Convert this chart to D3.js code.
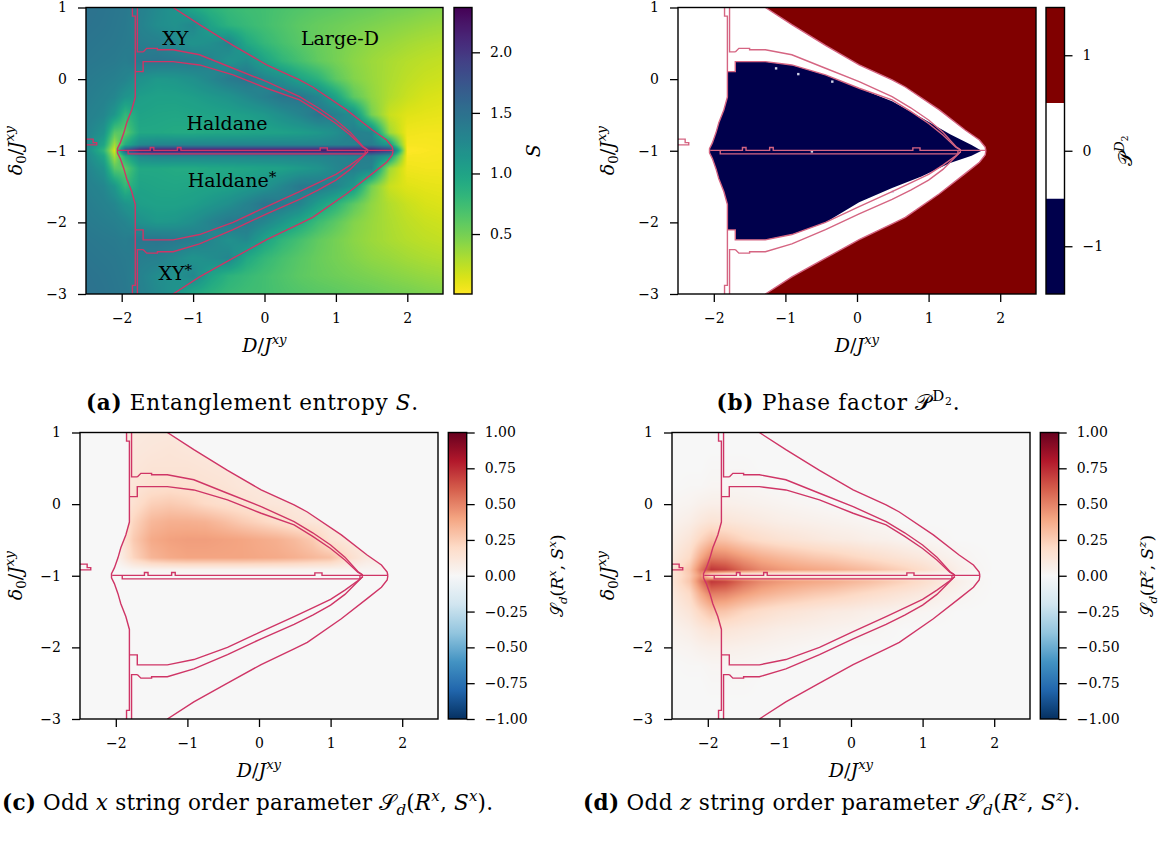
<!DOCTYPE html>
<html>
<head>
<meta charset="utf-8">
<script src="https://cdn.jsdelivr.net/npm/d3@7/dist/d3.min.js"></script>
<style>
  html, body { margin: 0; padding: 0; background: #fff; }
  svg { display: block; }
</style>
</head>
<body>
<svg id="fig" width="1163" height="848" xmlns="http://www.w3.org/2000/svg"></svg>
<script>
// ---------------------------------------------------------------------------
// Sample grid of the (D, delta0) phase diagram
// ---------------------------------------------------------------------------
const D_GRID = [-2.5, -2.25, -2.1, -1.95, -1.75, -1.5, -1.25, -1, -0.75, -0.5, -0.25,
                0, 0.25, 0.5, 0.75, 1, 1.25, 1.5, 1.75, 2, 2.25, 2.5];
const DELTA_GRID = [1, 0.75, 0.5, 0.25, 0, -0.25, -0.5, -0.75, -0.92, -1, -1.08,
                    -1.25, -1.5, -1.75, -2, -2.25, -2.5, -2.75, -3];

// Entanglement entropy S on the grid (rows follow DELTA_GRID, columns D_GRID)
const ENTROPY = [
  [1.48,1.46,1.44,1.42,1.35,1.25,1.15,0.95,0.85,0.78,0.74,0.72,0.68,0.65,0.62,0.60,0.57,0.55,0.52,0.50,0.47,0.45],
  [1.47,1.45,1.43,1.41,1.33,1.22,1.18,1.28,1.00,0.85,0.78,0.72,0.66,0.60,0.56,0.53,0.50,0.47,0.44,0.41,0.38,0.36],
  [1.45,1.43,1.42,1.40,1.37,1.35,1.25,1.15,1.20,1.30,0.95,0.80,0.70,0.62,0.55,0.50,0.45,0.40,0.37,0.33,0.30,0.28],
  [1.43,1.41,1.40,1.37,1.43,1.45,1.42,1.40,1.30,1.15,1.22,1.00,0.82,0.70,0.58,0.50,0.42,0.36,0.31,0.27,0.24,0.22],
  [1.40,1.37,1.35,1.30,1.18,1.10,1.12,1.18,1.28,1.40,1.45,1.30,1.20,1.00,0.85,0.60,0.45,0.37,0.30,0.24,0.20,0.18],
  [1.38,1.33,1.28,1.15,1.05,1.02,1.02,1.05,1.10,1.15,1.25,1.35,1.45,1.45,1.30,1.00,0.60,0.40,0.28,0.20,0.15,0.13],
  [1.35,1.28,1.12,0.80,1.00,0.98,0.97,0.98,1.00,1.02,1.05,1.10,1.20,1.30,1.45,1.35,1.20,0.50,0.20,0.12,0.10,0.09],
  [1.32,1.15,0.62,0.60,0.95,0.95,0.93,0.93,0.95,0.96,0.98,1.00,1.02,1.05,1.10,1.20,1.35,1.30,0.35,0.06,0.05,0.05],
  [1.28,0.98,0.32,0.90,1.25,1.30,1.30,1.30,1.30,1.30,1.30,1.30,1.30,1.30,1.30,1.32,1.35,1.38,1.10,0.03,0.03,0.04],
  [1.25,0.82,0.15,1.80,2.20,2.25,2.25,2.25,2.25,2.25,2.25,2.25,2.25,2.25,2.25,2.25,2.25,2.20,2.00,0.00,0.02,0.03],
  [1.28,0.98,0.32,0.90,1.25,1.30,1.30,1.30,1.30,1.30,1.30,1.30,1.30,1.30,1.30,1.32,1.35,1.38,1.10,0.03,0.03,0.04],
  [1.32,1.15,0.62,0.60,0.95,0.95,0.93,0.93,0.95,0.96,0.98,1.00,1.02,1.08,1.15,1.28,1.35,1.30,0.35,0.06,0.05,0.05],
  [1.35,1.28,1.12,0.80,1.00,0.98,0.97,0.98,1.00,1.02,1.08,1.15,1.28,1.42,1.40,1.30,1.10,0.50,0.20,0.12,0.10,0.09],
  [1.38,1.33,1.28,1.15,1.05,1.02,1.02,1.05,1.12,1.20,1.32,1.45,1.40,1.30,1.05,0.85,0.60,0.40,0.28,0.20,0.15,0.13],
  [1.40,1.37,1.35,1.30,1.18,1.10,1.12,1.20,1.32,1.42,1.40,1.28,1.12,0.95,0.75,0.60,0.45,0.37,0.30,0.24,0.20,0.18],
  [1.43,1.41,1.40,1.37,1.43,1.45,1.42,1.38,1.28,1.18,1.25,1.00,0.82,0.70,0.58,0.50,0.42,0.36,0.31,0.27,0.24,0.22],
  [1.45,1.43,1.42,1.40,1.37,1.35,1.25,1.15,1.22,1.28,0.95,0.80,0.70,0.62,0.55,0.50,0.45,0.40,0.37,0.33,0.30,0.28],
  [1.47,1.45,1.43,1.41,1.33,1.22,1.18,1.28,1.00,0.85,0.78,0.72,0.66,0.60,0.56,0.53,0.50,0.47,0.44,0.41,0.38,0.36],
  [1.48,1.46,1.44,1.42,1.35,1.25,1.15,0.95,0.85,0.78,0.74,0.72,0.68,0.65,0.62,0.60,0.57,0.55,0.52,0.50,0.47,0.45]
];

// Odd x string order parameter S_d(R^x, S^x)
const STRING_X = [
  [0,0,0,0.08,0.10,0.11,0.11,0.10,0.10,0,0,0,0,0,0,0,0,0,0,0,0,0],
  [0,0,0,0.08,0.11,0.12,0.13,0.12,0.11,0.10,0,0,0,0,0,0,0,0,0,0,0,0],
  [0,0,0,0.08,0.12,0.14,0.14,0.14,0.13,0.12,0.11,0.10,0,0,0,0,0,0,0,0,0,0],
  [0,0,0,0.08,0.13,0.16,0.17,0.16,0.15,0.14,0.12,0.11,0.10,0.10,0,0,0,0,0,0,0,0],
  [0,0,0,0.08,0.16,0.24,0.26,0.24,0.20,0.17,0.15,0.13,0.12,0.11,0.10,0.10,0,0,0,0,0,0],
  [0,0,0,0.08,0.22,0.33,0.36,0.36,0.35,0.31,0.26,0.22,0.18,0.14,0.12,0.11,0.10,0,0,0,0,0],
  [0,0,0,0.08,0.26,0.38,0.41,0.42,0.42,0.41,0.40,0.38,0.36,0.32,0.26,0.14,0.11,0.10,0,0,0,0],
  [0,0,0,0.06,0.22,0.34,0.38,0.40,0.40,0.40,0.40,0.39,0.38,0.36,0.33,0.30,0.18,0.10,0.08,0,0,0],
  [0,0,0,0,0.02,0.03,0.03,0.03,0.03,0.03,0.03,0.03,0.03,0.03,0.03,0.03,0.03,0.02,0.02,0,0,0],
  [0,0,0,0,0,0,0,0,0,0,0,0,0,0,0,0,0,0,0,0,0,0],
  [0,0,0,0,0,0,0,0,0,0,0,0,0,0,0,0,0,0,0,0,0,0],
  [0,0,0,0,0,0,0,0,0,0,0,0,0,0,0,0,0,0,0,0,0,0],
  [0,0,0,0,0,0,0,0,0,0,0,0,0,0,0,0,0,0,0,0,0,0],
  [0,0,0,0,0,0,0,0,0,0,0,0,0,0,0,0,0,0,0,0,0,0],
  [0,0,0,0,0,0,0,0,0,0,0,0,0,0,0,0,0,0,0,0,0,0],
  [0,0,0,0,0,0,0,0,0,0,0,0,0,0,0,0,0,0,0,0,0,0],
  [0,0,0,0,0,0,0,0,0,0,0,0,0,0,0,0,0,0,0,0,0,0],
  [0,0,0,0,0,0,0,0,0,0,0,0,0,0,0,0,0,0,0,0,0,0],
  [0,0,0,0,0,0,0,0,0,0,0,0,0,0,0,0,0,0,0,0,0,0]
];

// Odd z string order parameter S_d(R^z, S^z)
const STRING_Z = [
  [0,0,0,0,0,0,0,0,0,0,0,0,0,0,0,0,0,0,0,0,0,0],
  [0,0,0,0,0,0,0,0,0,0,0,0,0,0,0,0,0,0,0,0,0,0],
  [0,0,0,0.01,0.01,0.01,0,0,0,0,0,0,0,0,0,0,0,0,0,0,0,0],
  [0,0.01,0.01,0.02,0.02,0.02,0.01,0,0,0,0,0,0,0,0,0,0,0,0,0,0,0],
  [0.02,0.03,0.05,0.06,0.06,0.05,0.04,0.03,0.02,0.01,0,0,0,0,0,0,0,0,0,0,0,0],
  [0.04,0.07,0.11,0.14,0.13,0.11,0.09,0.07,0.06,0.05,0.04,0.03,0.02,0.01,0,0,0,0,0,0,0,0],
  [0.07,0.13,0.22,0.30,0.28,0.22,0.18,0.15,0.13,0.11,0.09,0.08,0.06,0.05,0.03,0.02,0.01,0,0,0,0,0],
  [0.10,0.20,0.38,0.52,0.50,0.43,0.37,0.33,0.30,0.27,0.25,0.22,0.19,0.16,0.13,0.10,0.06,0.03,0.01,0,0,0],
  [0.13,0.28,0.52,0.72,0.68,0.56,0.48,0.44,0.41,0.39,0.37,0.34,0.31,0.27,0.23,0.18,0.12,0.06,0.02,0,0,0],
  [0.12,0.26,0.45,0.08,0,0,0,0,0,0,0,0,0,0,0,0,0,0,0,0,0,0],
  [0.13,0.28,0.52,0.72,0.68,0.56,0.48,0.44,0.41,0.39,0.37,0.34,0.31,0.27,0.23,0.18,0.12,0.06,0.02,0,0,0],
  [0.10,0.20,0.38,0.52,0.50,0.43,0.37,0.33,0.30,0.27,0.25,0.22,0.19,0.16,0.13,0.10,0.06,0.03,0.01,0,0,0],
  [0.07,0.13,0.22,0.30,0.28,0.22,0.18,0.15,0.13,0.11,0.09,0.08,0.06,0.05,0.03,0.02,0.01,0,0,0,0,0],
  [0.04,0.07,0.11,0.14,0.13,0.11,0.09,0.07,0.06,0.05,0.04,0.03,0.02,0.01,0,0,0,0,0,0,0,0],
  [0.02,0.03,0.05,0.06,0.06,0.05,0.04,0.03,0.02,0.01,0,0,0,0,0,0,0,0,0,0,0,0],
  [0,0.01,0.01,0.02,0.02,0.02,0.01,0,0,0,0,0,0,0,0,0,0,0,0,0,0,0],
  [0,0,0,0.01,0.01,0.01,0,0,0,0,0,0,0,0,0,0,0,0,0,0,0,0],
  [0,0,0,0,0,0,0,0,0,0,0,0,0,0,0,0,0,0,0,0,0,0],
  [0,0,0,0,0,0,0,0,0,0,0,0,0,0,0,0,0,0,0,0,0,0]
];

// ---------------------------------------------------------------------------
// Phase boundaries, as [D, delta0] vertices
// ---------------------------------------------------------------------------
// left boundary of the gapped phases
const BOUNDARY_LEFT = [[-1.85,1],[-1.85,0.88],[-1.81,0.88],[-1.81,-0.25],[-1.86,-0.43],[-1.93,-0.61],
  [-1.97,-0.75],[-2.02,-0.89],[-2.06,-0.97],[-2.06,-1.03],[-2.02,-1.11],[-1.97,-1.25],[-1.93,-1.39],
  [-1.86,-1.57],[-1.81,-1.75],[-1.81,-2.88],[-1.85,-2.88],[-1.85,-3]];
const BOUNDARY_XY_LEFT = [[-1.78,1],[-1.78,0.38],[-1.7,0.38]];
const BOUNDARY_XYS_LEFT = [[-1.78,-3],[-1.78,-2.38],[-1.7,-2.38]];
// Large-D boundaries
const BOUNDARY_LARGE_D_TOP = [[-1.28,1],[-0.91,0.76],[-0.44,0.47],[0.03,0.2],[0.49,-0.01],[0.675,-0.11],
  [1.15,-0.43],[1.51,-0.71],[1.71,-0.85],[1.79,-0.95],[1.8,-1]];
const BOUNDARY_LARGE_D_BOTTOM = [[-1.28,-3],[-0.91,-2.76],[-0.44,-2.5],[0.03,-2.24],[0.49,-2.02],[0.675,-1.93],
  [1.15,-1.6],[1.51,-1.32],[1.71,-1.16],[1.79,-1.06],[1.8,-1]];
// XY / Haldane boundaries (upper pair) and XY* / Haldane* boundaries (lower pair)
const BOUNDARY_XY_OUTER = [[-1.7,0.38],[-1.65,0.43],[-1.5,0.43],[-1.5,0.41],[-1.28,0.41],[-0.91,0.34],
  [-0.44,0.152],[0.03,-0.035],[0.49,-0.244],[0.75,-0.40],[1.0,-0.57],[1.2,-0.74],[1.38,-0.94],[1.45,-0.99]];
const BOUNDARY_XY_INNER = [[-1.81,0.105],[-1.70,0.105],[-1.70,0.244],[-1.28,0.244],[-0.91,0.198],
  [-0.44,0.059],[0.03,-0.127],[0.49,-0.29],[0.75,-0.45],[1.0,-0.62],[1.2,-0.78],[1.38,-0.95],[1.45,-0.99]];
const BOUNDARY_XYS_OUTER = [[-1.7,-2.38],[-1.65,-2.43],[-1.5,-2.43],[-1.5,-2.41],[-1.28,-2.41],[-0.91,-2.3],
  [-0.44,-2.1],[0.03,-1.88],[0.49,-1.68],[0.75,-1.55],[1.0,-1.41],[1.2,-1.26],[1.38,-1.08],[1.45,-1.01]];
const BOUNDARY_XYS_INNER = [[-1.81,-2.105],[-1.70,-2.105],[-1.70,-2.244],[-1.28,-2.244],[-0.91,-2.17],
  [-0.44,-2.0],[0.03,-1.78],[0.49,-1.57],[0.75,-1.45],[1.0,-1.33],[1.2,-1.2],[1.38,-1.07],[1.45,-1.01]];
// Haldane / Haldane* line at delta0 = -1 and the thin strip below it
const BOUNDARY_CENTER = [[-2.05,-0.995],[-1.6,-0.995],[-1.6,-0.955],[-1.55,-0.955],[-1.55,-0.995],
  [-1.22,-0.995],[-1.22,-0.955],[-1.17,-0.955],[-1.17,-0.995],[0.78,-0.995],[0.78,-0.96],[0.88,-0.96],
  [0.88,-0.995],[1.8,-0.995]];
const BOUNDARY_STRIP = [[-1.91,-0.995],[-1.91,-1.043],[1.41,-1.043],[1.41,-0.995]];
const BOUNDARY_EDGE_SPOT = [[-2.5,-0.838],[-2.4,-0.838],[-2.4,-0.886],[-2.35,-0.886],[-2.35,-0.918],[-2.5,-0.918]];

// Region where the phase factor is -1
const NEGATIVE_REGION = [[-1.81,0.105],[-1.70,0.105],[-1.70,0.244],[-1.28,0.244],[-0.91,0.198],[-0.44,0.059],
  [0.03,-0.127],[0.49,-0.31],[0.9,-0.54],[1.3,-0.77],[1.6,-0.92],[1.74,-1.0],
  [1.6,-1.07],[1.3,-1.17],[0.9,-1.36],[0.49,-1.52],[0.03,-1.72],[-0.44,-2.0],[-0.91,-2.17],
  [-1.28,-2.244],[-1.70,-2.244],[-1.70,-2.105],[-1.81,-2.105],[-1.81,-1.75],[-1.86,-1.57],[-1.93,-1.39],
  [-1.97,-1.25],[-2.02,-1.11],[-2.06,-1.03],[-2.06,-0.97],[-2.02,-0.89],[-1.97,-0.75],[-1.93,-0.61],
  [-1.86,-0.43],[-1.81,-0.25]];
const NEGATIVE_SPECKLES = [[-1.13,0.15],[-0.82,0.07],[-0.345,-0.035],[0.5,-1.57],[-0.63,-1.01]];

// Phase names written into the entropy map (text baseline at [D, delta0])
const PHASE_NAMES = ['XY', 'Large-D', 'Haldane', 'Haldane', 'XY'];
const PHASE_NAME_STARRED = [false, false, false, true, true];
const PHASE_NAME_POS = [[-1.25, 0.476], [1.057, 0.476], [-0.525, -0.71], [-0.455, -1.506], [-1.25, -2.805]];

// Axis ticks
const D_TICKS = [-2, -1, 0, 1, 2];
const DELTA_TICKS = [-3, -2, -1, 0, 1];
const ENTROPY_TICKS = [0.5, 1.0, 1.5, 2.0];
const ENTROPY_RANGE = [0.005, 2.37];
const PHASE_TICKS = [-1, 0, 1];
const STRING_TICKS = [-1, -0.75, -0.5, -0.25, 0, 0.25, 0.5, 0.75, 1];

// ---------------------------------------------------------------------------
const SERIF = '"DejaVu Serif", "Liberation Serif", serif';
const CAL = '"DejaVu Sans", "DejaVu Serif", "Noto Sans", serif';
const LINE_COLOR = '#cf3566';
const svg = d3.select('#fig');

const panels = [
  { key: 'a', left: 86,  top: 7.5,   w: 357, h: 286.5, cbLeft: 454,    cbW: 18 },
  { key: 'b', left: 678, top: 7.5,   w: 358, h: 286.5, cbLeft: 1046,   cbW: 18.5 },
  { key: 'c', left: 80,  top: 432.5, w: 358, h: 286.5, cbLeft: 448.3,  cbW: 18.4 },
  { key: 'd', left: 672, top: 432.5, w: 358, h: 286.5, cbLeft: 1040.3, cbW: 18.4 }
];

// RdBu diverging ramp, interpolated linearly between its anchor colours
const RDBU = ['#67001f', '#b2182b', '#d6604d', '#f4a582', '#fddbc7', '#f7f7f7',
              '#d1e5f0', '#92c5de', '#4393c3', '#2166ac', '#053061'];
const entropyColor = d3.scaleSequential(d3.interpolateViridis).domain([ENTROPY_RANGE[1], ENTROPY_RANGE[0]]);
const stringColor = d3.scaleSequential(d3.piecewise(d3.interpolateRgb, RDBU)).domain([1, -1]);
const PHASE_COLORS = { '-1': '#00004c', '0': '#ffffff', '1': '#800000' };

function richText(sel, parts, fs) {
  let shift = 0;
  parts.forEach(p => {
    const ts = sel.append('tspan').text(p.t);
    if (p.i) ts.attr('font-style', 'italic');
    if (p.b) ts.attr('font-weight', 'bold');
    if (p.cal) ts.attr('font-family', CAL);
    let target = 0;
    if (p.sup) target = -0.4 * fs;
    if (p.sub) target = 0.22 * fs;
    if (p.shift !== undefined) target = p.shift * fs;
    if (p.size) ts.attr('font-size', p.size * fs);
    else if (p.sup || p.sub) ts.attr('font-size', 0.7 * fs);
    if (target !== shift) { ts.attr('dy', target - shift); shift = target; }
  });
}

function styleAxis(sel) {
  sel.select('.domain').remove();
  sel.selectAll('line').attr('stroke', '#000').attr('stroke-width', 1.3);
  sel.selectAll('text').attr('font-size', 14).attr('font-family', SERIF).attr('fill', '#000');
}

function fieldImage(grid, color, x, y, w, h) {
  const cw = Math.ceil(w), ch = Math.ceil(h);
  const canvas = document.createElement('canvas');
  canvas.width = cw; canvas.height = ch;
  const ctx = canvas.getContext('2d');
  const img = ctx.createImageData(cw, ch);
  const fi = d3.scaleLinear().domain(D_GRID).range(d3.range(D_GRID.length)).clamp(true);
  const fj = d3.scaleLinear().domain(DELTA_GRID).range(d3.range(DELTA_GRID.length)).clamp(true);
  const nI = D_GRID.length - 2, nJ = DELTA_GRID.length - 2;
  for (let py = 0; py < ch; py++) {
    const jf = fj(y.invert(py + 0.5));
    const j0 = Math.min(Math.floor(jf), nJ), tj = jf - j0;
    for (let px = 0; px < cw; px++) {
      const ifr = fi(x.invert(px + 0.5));
      const i0 = Math.min(Math.floor(ifr), nI), ti = ifr - i0;
      const v = (1 - tj) * ((1 - ti) * grid[j0][i0] + ti * grid[j0][i0 + 1]) +
                tj * ((1 - ti) * grid[j0 + 1][i0] + ti * grid[j0 + 1][i0 + 1]);
      const c = d3.rgb(color(v));
      const k = 4 * (py * cw + px);
      img.data[k] = c.r; img.data[k + 1] = c.g; img.data[k + 2] = c.b; img.data[k + 3] = 255;
    }
  }
  ctx.putImageData(img, 0, 0);
  return canvas.toDataURL();
}

const defs = svg.append('defs');

panels.forEach(p => {
  const x = d3.scaleLinear().domain([-2.5, 2.5]).range([0, p.w]);
  const y = d3.scaleLinear().domain([1, -3]).range([0, p.h]);
  const line = d3.line().x(d => x(d[0])).y(d => y(d[1]));
  const g = svg.append('g').attr('transform', `translate(${p.left},${p.top})`);

  defs.append('clipPath').attr('id', 'plot-' + p.key)
    .append('rect').attr('width', p.w).attr('height', p.h);
  const body = g.append('g').attr('clip-path', `url(#plot-${p.key})`);

  if (p.key === 'a') {
    body.append('image').attr('width', p.w).attr('height', p.h).attr('preserveAspectRatio', 'none')
      .attr('href', fieldImage(ENTROPY, entropyColor, x, y, p.w, p.h));
  } else if (p.key === 'b') {
    body.append('rect').attr('width', p.w).attr('height', p.h).attr('fill', PHASE_COLORS['0']);
    const positive = BOUNDARY_LARGE_D_TOP.concat(BOUNDARY_LARGE_D_BOTTOM.slice().reverse(), [[2.6, -3.1], [2.6, 1.1], [-1.28, 1.1]]);
    body.append('path').attr('d', line(positive) + 'Z').attr('fill', PHASE_COLORS['1']);
    body.append('path').attr('d', line(NEGATIVE_REGION) + 'Z').attr('fill', PHASE_COLORS['-1']);
    body.selectAll('rect.speck').data(NEGATIVE_SPECKLES).join('rect').attr('class', 'speck')
      .attr('x', d => x(d[0]) - 1.2).attr('y', d => y(d[1]) - 1.2).attr('width', 2.4).attr('height', 2.4)
      .attr('fill', '#cfd3e6');
  } else {
    body.append('rect').attr('width', p.w).attr('height', p.h).attr('fill', stringColor(0));
    const grid = p.key === 'c' ? STRING_X : STRING_Z;
    const im = body.append('image').attr('width', p.w).attr('height', p.h).attr('preserveAspectRatio', 'none')
      .attr('href', fieldImage(grid, stringColor, x, y, p.w, p.h));
    if (p.key === 'c') {
      // the odd x string order lives in the upper gapped region only
      const upper = BOUNDARY_LEFT.filter(d => d[1] >= -1)
        .concat([[1.8, -1]], BOUNDARY_LARGE_D_TOP.slice().reverse());
      defs.append('clipPath').attr('id', 'upper-' + p.key).append('path').attr('d', line(upper) + 'Z');
      im.attr('clip-path', `url(#upper-${p.key})`);
    }
  }

  // phase boundaries
  const boundaries = [BOUNDARY_LEFT, BOUNDARY_XY_LEFT, BOUNDARY_XYS_LEFT, BOUNDARY_LARGE_D_TOP,
    BOUNDARY_LARGE_D_BOTTOM, BOUNDARY_XY_OUTER, BOUNDARY_XY_INNER, BOUNDARY_XYS_OUTER, BOUNDARY_XYS_INNER,
    BOUNDARY_CENTER, BOUNDARY_STRIP, BOUNDARY_EDGE_SPOT];
  body.selectAll('path.boundary').data(boundaries).join('path').attr('class', 'boundary')
    .attr('d', line).attr('fill', 'none')
    .attr('stroke', p.key === 'b' ? '#d56582' : LINE_COLOR)
    .attr('stroke-width', 1.4).attr('stroke-linejoin', 'miter');

  // phase names on the entropy map
  if (p.key === 'a') {
    PHASE_NAMES.forEach((name, k) => {
      const t = g.append('text').attr('x', x(PHASE_NAME_POS[k][0])).attr('y', y(PHASE_NAME_POS[k][1]))
        .attr('text-anchor', 'middle').attr('font-family', SERIF).attr('font-size', 19).attr('fill', '#000');
      const parts = [{ t: name }];
      if (PHASE_NAME_STARRED[k]) parts.push({ t: '*', sup: true, size: 0.8, shift: -0.28 });
      richText(t, parts, 19);
    });
  }

  // axes and frame
  g.append('g').attr('transform', `translate(0,${p.h})`)
    .call(d3.axisBottom(x).tickValues(D_TICKS).tickFormat(d3.format('d')).tickSize(8).tickPadding(11))
    .call(styleAxis);
  g.append('g')
    .call(d3.axisLeft(y).tickValues(DELTA_TICKS).tickFormat(d3.format('d')).tickSize(8).tickPadding(11))
    .call(styleAxis);
  g.append('rect').attr('width', p.w).attr('height', p.h).attr('fill', 'none')
    .attr('stroke', '#000').attr('stroke-width', 1.4);

  // axis labels
  const xl = g.append('text').attr('x', x(0)).attr('y', p.h + 58).attr('text-anchor', 'middle')
    .attr('font-family', SERIF).attr('font-size', 19);
  richText(xl, [{ t: 'D', i: true }, { t: '/' }, { t: 'J', i: true }, { t: 'xy', i: true, sup: true }], 19);
  const yl = g.append('text').attr('transform', `translate(${p.key === 'a' || p.key === 'c' ? 15 - p.left : 607 - p.left},${p.h / 2}) rotate(-90)`)
    .attr('text-anchor', 'middle').attr('dy', '0.35em').attr('font-family', SERIF).attr('font-size', 19);
  richText(yl, [{ t: 'δ', i: true }, { t: '0', sub: true }, { t: '/' }, { t: 'J', i: true }, { t: 'xy', i: true, sup: true }], 19);

  // colorbar
  const cb = svg.append('g').attr('transform', `translate(${p.cbLeft},${p.top})`);
  let cbScale;
  if (p.key === 'b') {
    cbScale = d3.scaleLinear().domain([-1.5, 1.5]).range([p.h, 0]);
    PHASE_TICKS.forEach(v => {
      cb.append('rect').attr('x', 0).attr('y', cbScale(v + 0.5)).attr('width', p.cbW)
        .attr('height', cbScale(v - 0.5) - cbScale(v + 0.5)).attr('fill', PHASE_COLORS[String(v)]);
    });
    cb.append('g').attr('transform', `translate(${p.cbW},0)`)
      .call(d3.axisRight(cbScale).tickValues(PHASE_TICKS).tickFormat(d3.format('d')).tickSize(8).tickPadding(10))
      .call(styleAxis);
  } else {
    const isS = p.key === 'a';
    const dom = isS ? ENTROPY_RANGE : [-1, 1];
    const col = isS ? entropyColor : stringColor;
    cbScale = d3.scaleLinear().domain(dom).range([p.h, 0]);
    const gid = 'cbgrad-' + p.key;
    const grad = defs.append('linearGradient').attr('id', gid).attr('x1', 0).attr('y1', 1).attr('x2', 0).attr('y2', 0);
    d3.range(0, 1.0001, 0.02).forEach(t => {
      grad.append('stop').attr('offset', t).attr('stop-color', col(dom[0] + t * (dom[1] - dom[0])));
    });
    cb.append('rect').attr('width', p.cbW).attr('height', p.h).attr('fill', `url(#${gid})`);
    cb.append('g').attr('transform', `translate(${p.cbW},0)`)
      .call(d3.axisRight(cbScale).tickValues(isS ? ENTROPY_TICKS : STRING_TICKS)
        .tickFormat(d3.format(isS ? '.1f' : '.2f')).tickSize(8).tickPadding(10))
      .call(styleAxis);
  }
  cb.append('rect').attr('width', p.cbW).attr('height', p.h).attr('fill', 'none')
    .attr('stroke', '#000').attr('stroke-width', 1.4);

  // colorbar label
  const labelX = { a: 79, b: 79, c: 109, d: 107 }[p.key];
  const cfs = p.key === 'c' || p.key === 'd' ? 17 : 19;
  const cl = cb.append('text').attr('transform', `translate(${labelX},${p.h / 2}) rotate(-90)`)
    .attr('text-anchor', 'middle').attr('dy', '0.35em').attr('font-family', SERIF).attr('font-size', cfs);
  if (p.key === 'a') richText(cl, [{ t: 'S', i: true }], cfs);
  else if (p.key === 'b') richText(cl, [{ t: '𝒫', cal: true }, { t: 'D', i: true, sup: true }, { t: '2', size: 0.5, shift: -0.2 }], cfs);
  else {
    const c = p.key === 'c' ? 'x' : 'z';
    richText(cl, [{ t: '𝒮', cal: true }, { t: 'd', i: true, sub: true }, { t: '(' }, { t: 'R', i: true },
      { t: c, i: true, sup: true }, { t: ', ' }, { t: 'S', i: true }, { t: c, i: true, sup: true }, { t: ')' }], cfs);
  }
});

// captions below each panel
const CAPTIONS = [
  { x: 252, y: 410, anchor: 'middle', fs: 21.5, width: 332,
    parts: [{ t: '(a)', b: true }, { t: ' Entanglement entropy ' }, { t: 'S', i: true }, { t: '.' }] },
  { x: 838, y: 410, anchor: 'middle', fs: 21.5, width: 243,
    parts: [{ t: '(b)', b: true }, { t: ' Phase factor ' }, { t: '𝒫', cal: true }, { t: 'D', sup: true },
            { t: '2', size: 0.5, shift: -0.25 }, { t: '.', shift: 0 }] },
  { x: 2, y: 810, anchor: 'start', fs: 21.5, width: 491,
    parts: [{ t: '(c)', b: true }, { t: ' Odd ' }, { t: 'x', i: true }, { t: ' string order parameter ' },
            { t: '𝒮', cal: true }, { t: 'd', i: true, sub: true }, { t: '(' }, { t: 'R', i: true },
            { t: 'x', i: true, sup: true }, { t: ', ' }, { t: 'S', i: true }, { t: 'x', i: true, sup: true }, { t: ').' }] },
  { x: 583, y: 810, anchor: 'start', fs: 21.5, width: 497,
    parts: [{ t: '(d)', b: true }, { t: ' Odd ' }, { t: 'z', i: true }, { t: ' string order parameter ' },
            { t: '𝒮', cal: true }, { t: 'd', i: true, sub: true }, { t: '(' }, { t: 'R', i: true },
            { t: 'z', i: true, sup: true }, { t: ', ' }, { t: 'S', i: true }, { t: 'z', i: true, sup: true }, { t: ').' }] }
];
CAPTIONS.forEach(c => {
  const t = svg.append('text').attr('x', c.x).attr('y', c.y).attr('text-anchor', c.anchor)
    .attr('font-family', SERIF).attr('font-size', c.fs);
  richText(t, c.parts, c.fs);
  // only a small spacing correction toward the intended line width
  const len = t.node().getComputedTextLength();
  if (Math.abs(len - c.width) / c.width < 0.1) {
    t.attr('textLength', c.width).attr('lengthAdjust', 'spacing');
  }
});
</script>
</body>
</html>
